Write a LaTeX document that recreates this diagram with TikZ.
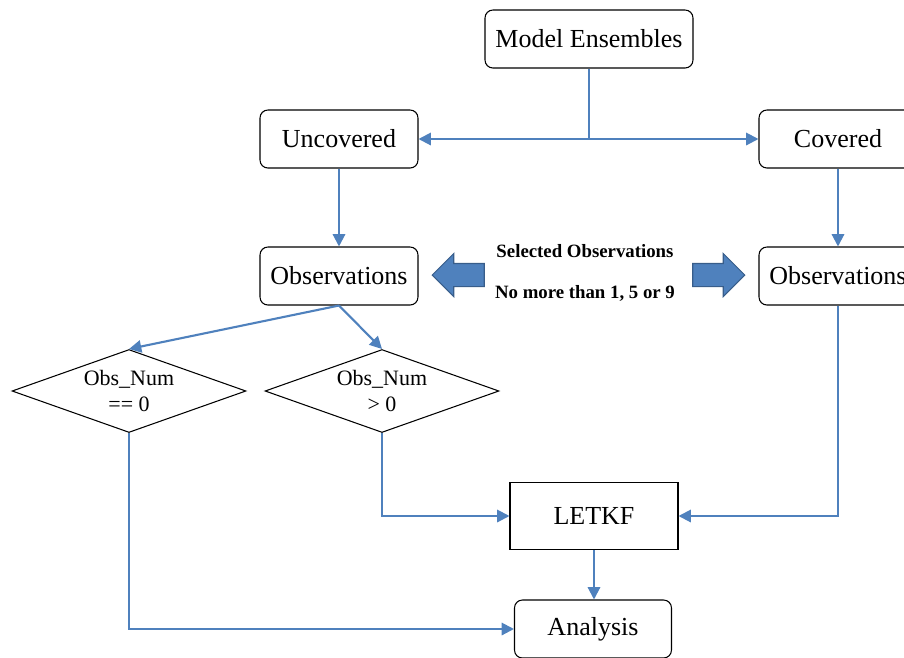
\documentclass[tikz,border=0pt]{standalone}
\usepackage{fontspec}
\setmainfont{Liberation Serif}
\usetikzlibrary{shapes,arrows.meta,positioning,calc}

\begin{document}
\begin{tikzpicture}[x=0.02cm, y=-0.02cm,
    box/.style={draw, rounded corners=4.5pt, line width=0.6pt, minimum width=3.16cm, minimum height=1.16cm, inner sep=0pt, font=\fontsize{14.8}{17}\selectfont},
    decide/.style={draw, diamond, aspect=2.82, line width=0.6pt, minimum width=4.68cm, minimum height=1.66cm, inner sep=0pt, align=center, font=\fontsize{12.5}{15}\selectfont},
    flow/.style={draw=lineblue, line width=1.2pt, -{Triangle[length=7pt, width=7pt]}},
    fat/.style={single arrow, draw=arrowedge, fill=lineblue, line width=0.6pt, minimum height=1.04cm, single arrow head extend=0.2cm, inner sep=0.22cm}
]
        \definecolor{lineblue}{RGB}{79,129,189}
        \definecolor{arrowedge}{RGB}{56,93,138}

        % Fix the page size, boxes on the right run off the edge
        \useasboundingbox (0,0) rectangle (904,657);
        \clip (0,0) rectangle (904,657);

        % Boxes
        \node[box, minimum width=4.16cm] (ens) at (589,39) {Model Ensembles};
        \node[box] (unc) at (339,139) {Uncovered};
        \node[box] (cov) at (838,139) {Covered};
        \node[box] (obsL) at (339,276) {Observations};
        \node[box] (obsR) at (838,276) {Observations};

        % Obs count tests
        \node[decide] (dZero) at (129,391) {Obs\_Num\\== 0};
        \node[decide] (dMore) at (382,391) {Obs\_Num\\> 0};

        \node[draw, line width=0.6pt, minimum width=3.36cm, minimum height=1.34cm, inner sep=0pt, font=\fontsize{14.8}{17}\selectfont] (letkf) at (594,516) {LETKF};
        \node[box, minimum width=3.14cm] (ana) at (593,629) {Analysis};

        % Selection note with the two block arrows
        \node[font=\fontsize{10.7}{13}\selectfont\bfseries] (selTxt) at (585,251) {Selected Observations};
        \node[font=\fontsize{10.7}{13}\selectfont\bfseries] (noTxt) at (585,293) {No more than 1, 5 or 9};
        \node[fat, shape border rotate=180] (arrL) at (464,275) {};
        \node[fat] (arrR) at (713,275) {};

        % Connectors
        \coordinate (split) at (589,139);
        \draw[line width=1.2pt, draw=lineblue] (ens) -- (split);
        \draw[flow] (split) -- (unc);
        \draw[flow] (split) -- (cov);
        \draw[flow] (unc) -- (obsL);
        \draw[flow] (cov) -- (obsR);
        \draw[flow] (obsL.south) -- (dZero.north);
        \draw[flow] (obsL.south) -- (dMore.north);
        \draw[flow] (dMore.south) |- (letkf.west);
        \draw[flow] (obsR.south) |- (letkf.east);
        \draw[flow] (letkf) -- (letkf |- ana.north);
        \draw[flow] (dZero.south) |- (ana.west);
\end{tikzpicture}
\end{document}
